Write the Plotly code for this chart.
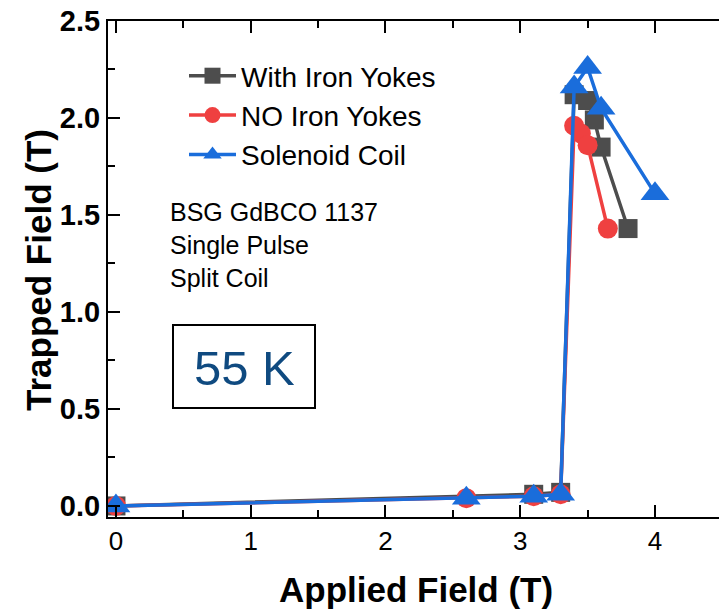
import plotly.graph_objects as go

# Data
x_yokes = [0, 3.1, 3.3, 3.4, 3.5, 3.55, 3.6, 3.8]
y_yokes = [0, 0.06, 0.07, 2.12, 2.09, 1.99, 1.85, 1.43]

x_noyokes = [0, 2.6, 3.1, 3.3, 3.4, 3.45, 3.5, 3.65]
y_noyokes = [0, 0.04, 0.05, 0.06, 1.96, 1.92, 1.86, 1.43]

x_solenoid = [0, 2.6, 3.1, 3.3, 3.4, 3.5, 3.6, 4.0]
y_solenoid = [0, 0.04, 0.05, 0.06, 2.16, 2.26, 2.05, 1.61]

names = ["With Iron Yokes", "NO Iron Yokes", "Solenoid Coil"]
info_lines = ["BSG GdBCO 1137", "Single Pulse", "Split Coil"]
temp_label = "55 K"
x_title = "Applied Field (T)"
y_title = "Trapped Field (T)"

FONT = "Liberation Sans, Arial, sans-serif"
C_BLK = "#4d4d4d"
C_RED = "#ef4040"
C_BLU = "#1a6ddb"

fig = go.Figure()
fig.add_trace(go.Scatter(x=x_yokes, y=y_yokes, name=names[0], mode="lines+markers",
                         line=dict(color=C_BLK, width=3.5),
                         marker=dict(symbol="square", size=19, color=C_BLK)))
fig.add_trace(go.Scatter(x=x_noyokes, y=y_noyokes, name=names[1], mode="lines+markers",
                         line=dict(color=C_RED, width=3.5),
                         marker=dict(symbol="circle", size=20, color=C_RED)))
fig.add_trace(go.Scatter(x=x_solenoid, y=y_solenoid, name=names[2], mode="lines+markers",
                         line=dict(color=C_BLU, width=3.5),
                         marker=dict(symbol="triangle-up", size=25, color=C_BLU)))

W, H = 719, 610
ml, mr, mt, mb = 108, 0, 21, 93
pw, ph = W - ml - mr, H - mt - mb

def px2paper(px, py):
    return (px - ml) / pw, (H - mb - py) / ph

fig.update_layout(
    width=W, height=H,
    margin=dict(l=ml, r=mr, t=mt, b=mb, pad=0, autoexpand=False),
    paper_bgcolor="white", plot_bgcolor="white",
    font=dict(family=FONT, color="black"),
    showlegend=True,
    legend=dict(x=px2paper(184, 0)[0], y=px2paper(0, 51)[1], xanchor="left", yanchor="top",
                bgcolor="rgba(0,0,0,0)", font=dict(size=28, family=FONT),
                itemsizing="trace", itemwidth=47, tracegroupgap=0),
    xaxis=dict(range=[-0.059, 4.475], tickvals=[0, 1, 2, 3, 4], showgrid=False, zeroline=False,
               automargin=False,
               showline=True, linecolor="black", linewidth=2, mirror="allticks",
               ticks="inside", ticklen=12, tickwidth=2, tickcolor="black",
               minor=dict(tickvals=[0.5, 1.5, 2.5, 3.5], ticks="inside", ticklen=7, tickwidth=2, tickcolor="black"),
               tickfont=dict(size=26, family=FONT)),
    yaxis=dict(range=[-0.057, 2.5], tickvals=[0, 0.5, 1.0, 1.5, 2.0, 2.5], ticktext=["0.0", "0.5", "1.0", "1.5", "2.0", "2.5"],
               showgrid=False, zeroline=False, automargin=False,
               showline=True, linecolor="black", linewidth=2, mirror=False,
               ticks="inside", ticklen=12, tickwidth=2, tickcolor="black",
               minor=dict(tickvals=[0.25, 0.75, 1.25, 1.75, 2.25], ticks="inside", ticklen=7, tickwidth=2, tickcolor="black"),
               tickfont=dict(size=29, family=FONT, weight="bold")),
)

# axis titles
xp, yp = px2paper(416, 589)
fig.add_annotation(x=xp, y=yp, xref="paper", yref="paper", text=x_title, showarrow=False,
                   xanchor="center", yanchor="middle", font=dict(size=35, family=FONT, weight="bold", color="black"))
xp, yp = px2paper(38, 270)
fig.add_annotation(x=xp, y=yp, xref="paper", yref="paper", text=y_title, showarrow=False, textangle=-90,
                   xanchor="center", yanchor="middle", font=dict(size=35, family=FONT, weight="bold", color="black"))

for i, line in enumerate(info_lines):
    xp, yp = px2paper(168, 212 + 33 * i)
    fig.add_annotation(x=xp, y=yp, xref="paper", yref="paper", text=line, showarrow=False,
                       xanchor="left", yanchor="middle", font=dict(size=25, family=FONT, color="black"))

x0, y0 = px2paper(173, 408)
x1, y1 = px2paper(315, 325)
fig.add_shape(type="rect", xref="paper", yref="paper", x0=x0, y0=y0, x1=x1, y1=y1,
              line=dict(color="black", width=2), fillcolor="rgba(0,0,0,0)")
xc, yc = px2paper(244, 368)
fig.add_annotation(x=xc, y=yc, xref="paper", yref="paper", text=temp_label, showarrow=False,
                   xanchor="center", yanchor="middle", font=dict(size=49, family=FONT, color="#0f4a80"))

fig.write_html("out.html", config={"displayModeBar": False},
               post_script="document.body.style.margin='0';document.body.style.overflow='hidden';")
